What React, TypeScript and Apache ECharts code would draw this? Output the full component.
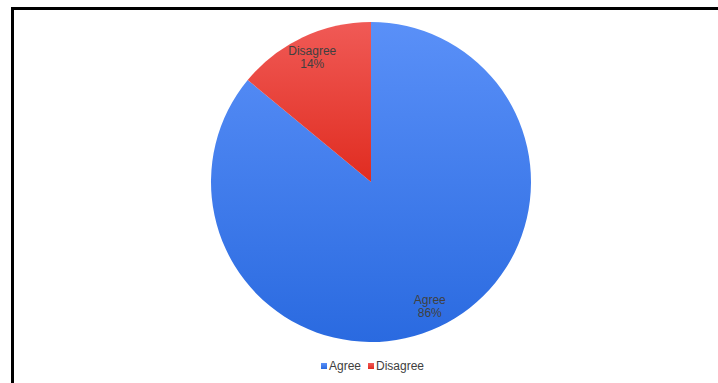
import React, { useEffect, useRef } from "react";
import * as echarts from "echarts";

const categories = ["Agree", "Disagree"];
const values = [86, 14];
const topColors = ["#5A90F8", "#F05A56"];
const bottomColors = ["#2A6AE0", "#E02C20"];

export default function App() {
  const ref = useRef<HTMLDivElement>(null);
  useEffect(() => {
    if (!ref.current) return;
    const chart = echarts.init(ref.current, null, { renderer: "svg" });
    const data = categories.map((name, i) => ({
      name,
      value: values[i],
      itemStyle: {
        color: new echarts.graphic.LinearGradient(0, 0, 0, 1, [
          { offset: 0, color: topColors[i] },
          { offset: 1, color: bottomColors[i] },
        ]),
      },
    }));
    const legendColors = categories.map((_, i) => bottomColors[i]);
    chart.setOption({
      animation: false,
      backgroundColor: "#ffffff",
      color: legendColors,
      legend: {
        data: categories,
        top: 360,
        left: 321,
        padding: 0,
        itemWidth: 6,
        itemHeight: 6,
        itemGap: 7,
        icon: "rect",
        textStyle: { fontFamily: "Liberation Sans", fontSize: 12, color: "#404040", padding: [0, 0, 0, -3] },
      },
      graphic: [
        { type: "rect", shape: { x: 11, y: 7, width: 3, height: 380 }, style: { fill: "#000" } },
        { type: "rect", shape: { x: 11, y: 7, width: 720, height: 3 }, style: { fill: "#000" } },
      ],
      series: [
        {
          type: "pie",
          center: [371, 182],
          radius: [0, 160],
          startAngle: 90,
          clockwise: true,
          label: { show: false },
          labelLine: { show: false },
          data,
        },
        {
          type: "pie",
          center: [371, 182],
          radius: [110, 160],
          startAngle: 90,
          clockwise: true,
          silent: true,
          itemStyle: { color: "transparent" },
          label: {
            show: true,
            position: "inside",
            formatter: "{b}\n{d}%",
            fontFamily: "Liberation Sans",
            fontSize: 12,
            lineHeight: 13,
            color: "#404040",
          },
          labelLine: { show: false },
          data: categories.map((name, i) => ({ name, value: values[i], itemStyle: { color: "transparent" } })),
        },
      ],
    });
    return () => chart.dispose();
  }, []);
  return (
    <div
      ref={ref}
      style={{ position: "fixed", left: 0, top: 0, width: 718, height: 383 }}
    />
  );
}
